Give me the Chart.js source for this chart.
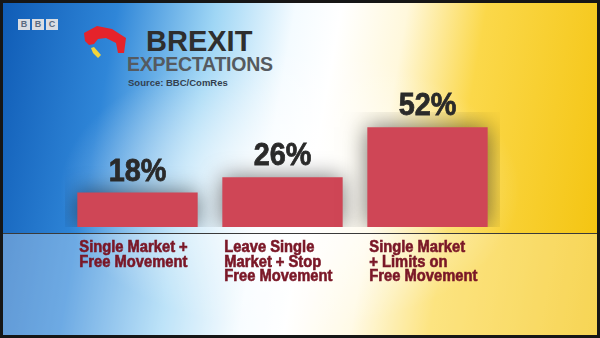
<!DOCTYPE html>
<html>
<head>
<meta charset="utf-8">
<script src="https://cdn.jsdelivr.net/npm/chart.js@4/dist/chart.umd.min.js"></script>
<style>
  body { margin: 0; }
  #wrap {
    position: relative; width: 600px; height: 338px; overflow: hidden;
    background:
      radial-gradient(ellipse 230px 140px at 290px 190px, rgba(255,255,255,0.95), rgba(255,255,255,0) 100%),
      linear-gradient(100deg, #0f5bb5 0%, #2f86d8 18%, #9fd6f5 33%, #f4fbff 45%, #ffffff 52%, #fff8dc 62%, #fbd84a 74%, #f3c20a 100%);
  }
  #band { position: absolute; left: 0; top: 234px; width: 600px; height: 104px; background: rgba(255,255,255,0.3); }
  #frame { position: absolute; inset: 0; box-shadow: inset 0 0 0 3px #161616; pointer-events: none; }
  #bbc { position: absolute; left: 18px; top: 19px; display: flex; gap: 2px; }
  #bbc span { width: 12px; height: 11px; background: #d9dde3; color: #5a6b80; font: bold 9px "Liberation Sans", Arial; text-align: center; line-height: 11px; }
  #logo { position: absolute; left: 80px; top: 22px; }
  .t { position: absolute; line-height: 1; white-space: nowrap; font-family: "Liberation Sans", Arial, sans-serif; font-weight: bold; }
  #t1 { left: 146px; top: 27px; font-size: 29px; color: #2e2e2e; }
  #t2 { left: 127px; top: 55px; font-size: 19.5px; color: #555a60; letter-spacing: -0.25px; }
  #t3 { left: 128px; top: 78px; font-size: 9.5px; color: #33404f; }
  canvas { position: absolute; left: 0; top: 0; }
</style>
</head>
<body>
<div id="wrap">
  <div id="band"></div>
  <div id="bbc"><span>B</span><span>B</span><span>C</span></div>
  <svg id="logo" width="48" height="38" viewBox="0 0 48 38">
    <polygon points="4,11 17,4 32,7 46,16 44,31 38,31 36,21 26,16 18,17 14,22 9,23 5,19" fill="#e5232b"/>
    <polygon points="11,26 14,25 21,33 18,36 13,31" fill="#f2d43a"/>
  </svg>
  <div class="t" id="t1">BREXIT</div>
  <div class="t" id="t2">EXPECTATIONS</div>
  <div class="t" id="t3">Source: BBC/ComRes</div>
  <canvas id="brexitChart" width="600" height="338"></canvas>
  <div id="frame"></div>
</div>
<script>
var categories = [
    ["Single Market +", "Free Movement"],
    ["Leave Single", "Market + Stop", "Free Movement"],
    ["Single Market", "+ Limits on", "Free Movement"]
];
var values = [18, 26, 52];
var valueLabels = ["18%", "26%", "52%"];

var sans = '"Liberation Sans", Arial, sans-serif';

// squeeze text a little to imitate the condensed broadcast font
function squeezed(ctx, text, x, y, sx, weight) {
    ctx.save();
    ctx.translate(x, y);
    ctx.scale(sx, 1);
    ctx.fillText(text, 0, 0);
    if (weight) {
        ctx.lineWidth = weight;
        ctx.strokeStyle = ctx.fillStyle;
        ctx.strokeText(text, 0, 0);
    }
    ctx.restore();
}

var shadowPlugin = {
    id: "barShadow",
    beforeDatasetsDraw: function (c) {
        c.ctx.save();
        c.ctx.shadowColor = "rgba(0,0,0,0.55)";
        c.ctx.shadowBlur = 22;
    },
    afterDatasetsDraw: function (c) {
        c.ctx.restore();
    }
};

var textPlugin = {
    id: "barText",
    afterDraw: function (c) {
        var ctx = c.ctx;
        var bars = c.getDatasetMeta(0).data;
        var area = c.chartArea;
        ctx.save();
        // axis line under the bars
        ctx.strokeStyle = "#3a3a3a";
        ctx.lineWidth = 1.2;
        ctx.beginPath();
        ctx.moveTo(3, area.bottom + 6.5);
        ctx.lineTo(597, area.bottom + 6.5);
        ctx.stroke();
        ctx.textBaseline = "alphabetic";
        bars.forEach(function (bar, i) {
            ctx.fillStyle = "#2a2a2a";
            ctx.font = "bold 32px " + sans;
            ctx.textAlign = "center";
            squeezed(ctx, valueLabels[i], bar.x, bar.y - 12, 0.9, 0.8);
            ctx.fillStyle = "#7a1727";
            ctx.font = "bold 16px " + sans;
            ctx.textAlign = "left";
            var left = bar.x - bar.width / 2 + 2;
            categories[i].forEach(function (line, j) {
                squeezed(ctx, line, left, area.bottom + 25 + j * 14.5, 0.92, 0.6);
            });
        });
        ctx.restore();
    }
};

new Chart(document.getElementById("brexitChart"), {
    type: "bar",
    data: {
        labels: categories,
        datasets: [{
            data: values,
            backgroundColor: "#cf4656",
            barPercentage: 1,
            categoryPercentage: 0.83
        }]
    },
    options: {
        responsive: false,
        animation: false,
        layout: { padding: { left: 65, right: 100, top: 112, bottom: 111 } },
        plugins: { legend: { display: false }, tooltip: { enabled: false } },
        scales: {
            x: { display: false },
            y: { display: false, min: 0, max: 60 }
        }
    },
    plugins: [shadowPlugin, textPlugin]
});
</script>
</body>
</html>
